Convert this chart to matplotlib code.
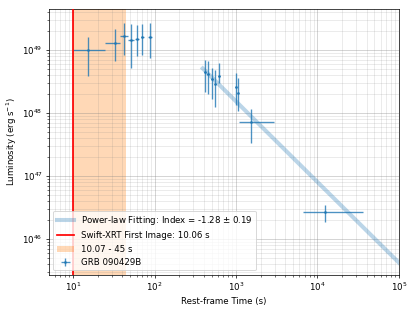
import numpy as np
import matplotlib
matplotlib.use("Agg")
import matplotlib.pyplot as plt

# GRB 090429B rest-frame light curve
t = [15.4, 32.6, 42.1, 51.6, 61.2, 70.6, 86.9,
     417, 457, 502, 558, 620, 991, 1050, 1517, 12330]
t_lo = [10.07, 24.3, 37.9, 47.8, 58.0, 67.5, 82.0,
        405, 445, 490, 545, 605, 975, 1035, 1079, 6680]
t_hi = [24.3, 37.9, 47.4, 56.3, 64.5, 74.0, 92.0,
        430, 470, 515, 572, 635, 1010, 1065, 2884, 36100]
lum = [1.0e49, 1.32e49, 1.71e49, 1.44e49, 1.53e49, 1.61e49, 1.65e49,
       4.43e48, 4.21e48, 3.43e48, 2.89e48, 3.83e48, 2.56e48, 2.1e48, 7.2e47, 2.68e46]
lum_lo = [3.87e48, 6.77e48, 8.5e48, 5.3e48, 8.1e48, 8.3e48, 7.66e48,
          2.18e48, 1.99e48, 1.66e48, 1.24e48, 2.97e48, 1.34e48, 1.09e48, 3.4e47, 1.9e46]
lum_hi = [1.63e49, 2.15e49, 2.75e49, 2.65e49, 2.49e49, 2.58e49, 2.71e49,
          6.95e48, 6.7e48, 5.13e48, 4.77e48, 6.3e48, 4.27e48, 3.56e48, 1.16e48, 3.46e46]

index = -1.28
index_err = 0.19
norm_1000 = 1.54e48   # fitted luminosity at t = 1000 s
fit_start, fit_end = 390, 1e5
xrt_first = 10.06
span = (10.07, 45)

t = np.array(t)
lum = np.array(lum)
xerr = [t - np.array(t_lo), np.array(t_hi) - t]
yerr = [lum - np.array(lum_lo), np.array(lum_hi) - lum]

tt = np.logspace(np.log10(fit_start), np.log10(fit_end), 100)
fit = norm_1000 * (tt / 1000) ** index

plt.rcParams['font.size'] = 9.5

fig, ax = plt.subplots(figsize=(6.4, 4.8), dpi=65)
ax.plot(tt, fit, color='C0', alpha=0.3, lw=4.5,
        label='Power-law Fitting: Index = %.2f $\\pm$ %.2f' % (index, index_err))
ax.axvline(xrt_first, color='red', lw=1.9, zorder=3,
           label='Swift-XRT First Image: %.2f s' % xrt_first)
ax.axvspan(span[0], span[1], color='C1', alpha=0.3, lw=0,
           label='%.2f - %g s' % span)
ax.errorbar(t, lum, xerr=xerr, yerr=yerr, fmt='.', ms=4, color='C0', alpha=0.8,
            label='GRB 090429B')

ax.set_xscale('log')
ax.set_yscale('log')
ax.set_xlim(5.07, 1e5)
ax.set_ylim(2.75e45, 4.5e49)
ax.grid(True, which='major', color='gray', alpha=0.45)
ax.grid(True, which='minor', color='gray', alpha=0.22)
ax.set_xlabel('Rest-frame Time (s)')
ax.set_ylabel('Luminosity (erg s$^{-1}$)')
ax.legend(loc='lower left')

fig.subplots_adjust(left=0.118, right=0.959, top=0.971, bottom=0.12)
fig.savefig('out.png')
